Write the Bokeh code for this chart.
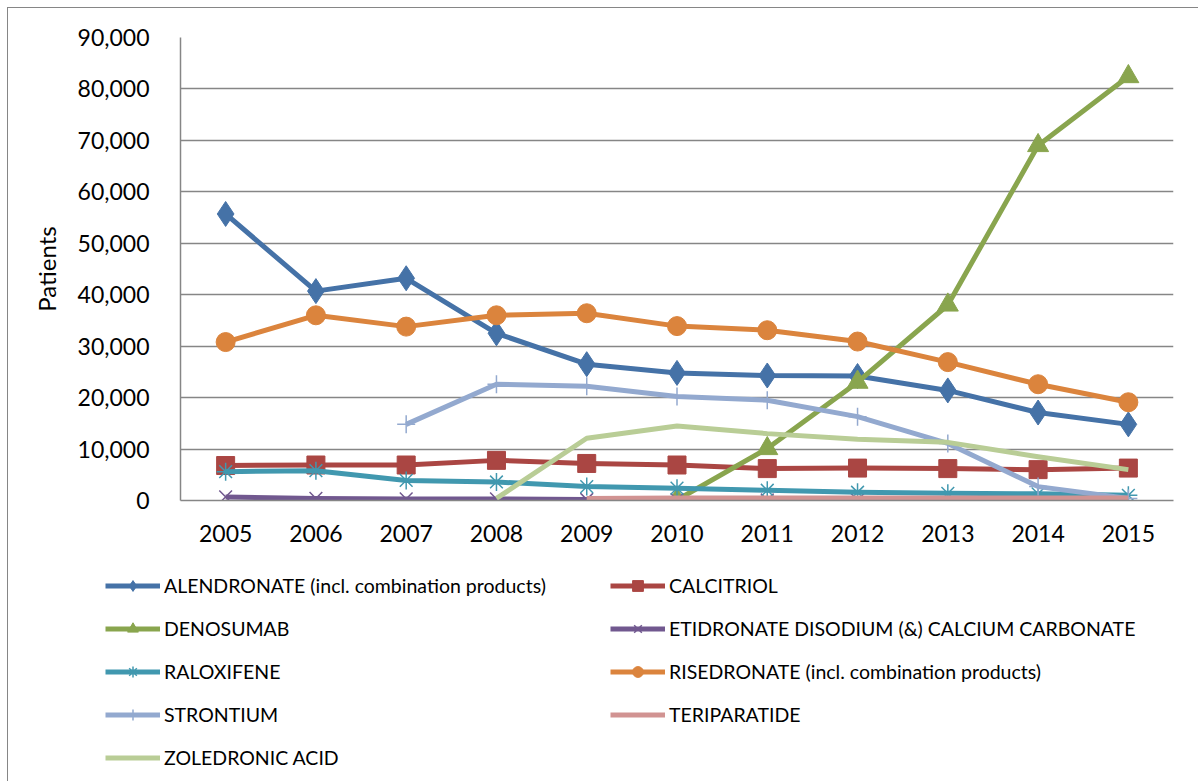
from bokeh.plotting import figure
from bokeh.models import Legend, LegendItem, NumeralTickFormatter, FactorRange, FixedTicker, Range1d
from bokeh.embed import file_html
from bokeh.resources import INLINE

years = ["2005", "2006", "2007", "2008", "2009", "2010", "2011", "2012", "2013", "2014", "2015"]

alendronate = [55700, 40700, 43200, 32500, 26500, 24800, 24300, 24200, 21400, 17100, 14800]
calcitriol = [6800, 6900, 6900, 7800, 7200, 6900, 6200, 6300, 6200, 6000, 6300]
denosumab_years = ["2010", "2011", "2012", "2013", "2014", "2015"]
denosumab = [100, 10100, 23000, 38000, 69000, 82400]
etidronate_years = ["2005", "2006", "2007", "2008", "2009", "2010", "2011", "2012"]
etidronate = [700, 400, 300, 300, 200, 150, 100, 100]
raloxifene = [5600, 5800, 3900, 3600, 2700, 2400, 2000, 1600, 1400, 1300, 1000]
risedronate = [30800, 36000, 33800, 36000, 36400, 33900, 33100, 30900, 26900, 22600, 19100]
strontium_years = ["2007", "2008", "2009", "2010", "2011", "2012", "2013", "2014", "2015"]
strontium = [14800, 22600, 22200, 20200, 19500, 16300, 11100, 2700, 400]
teriparatide_years = ["2009", "2010", "2011", "2012", "2013", "2014", "2015"]
teriparatide = [400, 500, 500, 500, 500, 500, 500]
zoledronic_years = ["2008", "2009", "2010", "2011", "2012", "2013", "2014", "2015"]
zoledronic = [400, 12100, 14500, 13000, 11900, 11300, 8500, 6000]

series = [
    ("ALENDRONATE (incl. combination products)", years, alendronate, "#4572A7", "diamond", 25),
    ("CALCITRIOL", years, calcitriol, "#AA4643", "square", 18),
    ("DENOSUMAB", denosumab_years, denosumab, "#89A54E", "triangle", 21),
    ("ETIDRONATE DISODIUM (&) CALCIUM CARBONATE", etidronate_years, etidronate, "#71588F", "x", 18),
    ("RALOXIFENE", years, raloxifene, "#4198AF", "asterisk", 18),
    ("RISEDRONATE (incl. combination products)", years, risedronate, "#DB843D", "circle", 19),
    ("STRONTIUM", strontium_years, strontium, "#93A9CF", "cross", 18),
    ("TERIPARATIDE", teriparatide_years, teriparatide, "#D19392", None, 0),
    ("ZOLEDRONIC ACID", zoledronic_years, zoledronic, "#B9CD96", None, 0),
]

FONT = "Lato"
GRID = "#868686"
BORDER = "1px solid #868686"

p = figure(
    width=1191, height=552,
    x_range=FactorRange(*years), y_range=(0, 90000),
    output_backend="svg", toolbar_location=None,
    min_border_left=172, min_border_right=26, min_border_top=29, min_border_bottom=60,
    margin=(7, 0, 0, 7),
)
p.styles = {"border-top": BORDER, "border-left": BORDER}
p.outline_line_color = None
p.background_fill_color = "white"
p.border_fill_color = "white"

p.xgrid.grid_line_color = None
p.ygrid.grid_line_color = GRID
p.ygrid.grid_line_width = 1.5

for ax in (p.xaxis[0], p.yaxis[0]):
    ax.axis_line_color = GRID
    ax.axis_line_width = 1.5
    ax.major_tick_line_color = None
    ax.minor_tick_line_color = None
    ax.major_label_text_font = FONT
    ax.major_label_text_font_size = "23px"
    ax.major_label_text_color = "black"

p.yaxis[0].formatter = NumeralTickFormatter(format="0,0")
p.yaxis[0].ticker = FixedTicker(ticks=list(range(0, 90001, 10000)))
p.yaxis[0].major_label_standoff = 25
p.xaxis[0].major_label_standoff = 18
p.yaxis[0].axis_label = "Patients"
p.yaxis[0].axis_label_text_font = FONT
p.yaxis[0].axis_label_text_font_size = "24px"
p.yaxis[0].axis_label_text_font_style = "normal"
p.yaxis[0].axis_label_text_color = "black"
p.yaxis[0].axis_label_standoff = 14

# legend panel below the chart (its data window is kept off the series so only the legend shows)
leg = figure(
    width=1191, height=222, x_range=p.x_range, y_range=Range1d(-2, -1),
    output_backend="svg", toolbar_location=None,
    min_border_left=0, min_border_right=0, min_border_top=0, min_border_bottom=0,
    margin=(0, 0, 0, 7),
)
leg.styles = {"border-left": BORDER}
leg.axis.visible = False
leg.grid.visible = False
leg.outline_line_color = None
leg.background_fill_color = "white"
leg.border_fill_color = "white"

items = []
for name, xs, ys, color, marker, size in series:
    p.line(xs, ys, line_color=color, line_width=5, line_join="round")
    rs = [leg.line(xs, ys, line_color=color, line_width=5)]
    if marker is not None:
        kw = dict(marker=marker, size=size, fill_color=color, line_color=color)
        if marker in ("x", "asterisk", "cross"):
            kw["line_width"] = 1.5
        p.scatter(xs, ys, **kw)
        rs.append(leg.scatter(xs, ys, **kw))
    items.append(LegendItem(label=name, renderers=rs))

def make_legend(its, loc):
    return Legend(items=its, location=loc, orientation="vertical",
                  glyph_width=55, glyph_height=27, label_height=22, label_standoff=4,
                  spacing=16, padding=0, margin=0,
                  label_text_font=FONT, label_text_font_size="19.5px",
                  label_text_color="black",
                  background_fill_alpha=0, border_line_color=None)

col1 = [items[i] for i in (0, 2, 4, 6, 8)]
col2 = [items[i] for i in (1, 3, 5, 7)]
leg.add_layout(make_legend(col1, (97, 10.5)), "center")
leg.add_layout(make_legend(col2, (602, 53.5)), "center")

open("out.html", "w").write(file_html([p, leg], INLINE))
